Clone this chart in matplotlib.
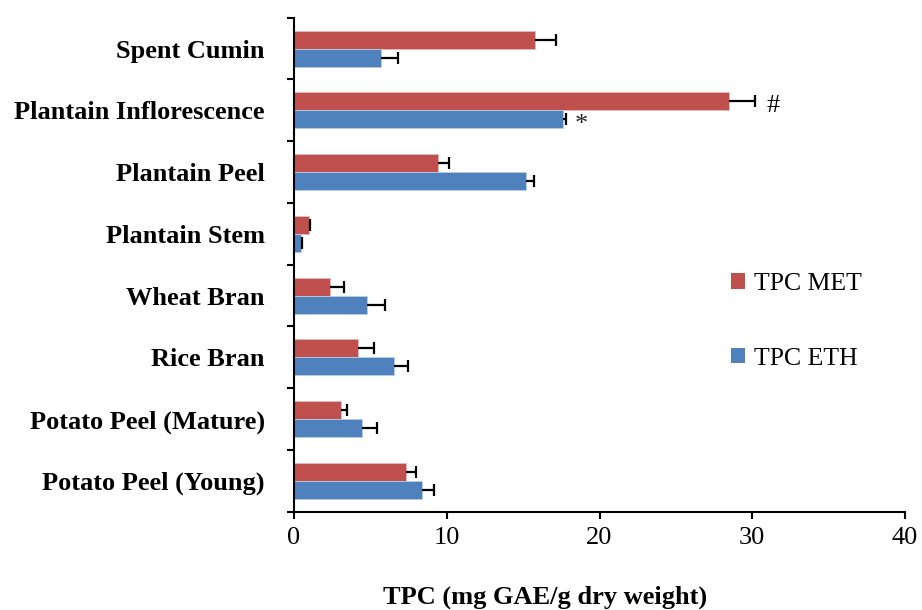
import matplotlib
matplotlib.use("Agg")
import matplotlib.pyplot as plt
from matplotlib.patches import Patch
import numpy as np

plt.rcParams['font.family'] = ['Liberation Serif', 'DejaVu Serif']

categories = ["Potato Peel (Young)", "Potato Peel (Mature)", "Rice Bran", "Wheat Bran",
              "Plantain Stem", "Plantain Peel", "Plantain Inflorescence", "Spent Cumin"]
tpc_met = [7.35, 3.1, 4.17, 2.36, 0.98, 9.4, 28.5, 15.8]
tpc_met_err = [0.64, 0.35, 1.09, 0.91, 0.07, 0.75, 1.7, 1.35]
tpc_eth = [8.36, 4.45, 6.52, 4.76, 0.44, 15.2, 17.6, 5.7]
tpc_eth_err = [0.79, 0.96, 0.92, 1.22, 0.08, 0.5, 0.2, 1.1]
series_labels = ["TPC MET", "TPC ETH"]
x_ticks = [0, 10, 20, 30, 40]

MET_COLOR = "#C0504D"
ETH_COLOR = "#4F81BD"
FS = 19

fig = plt.figure(figsize=(9.22, 6.1), dpi=100)
ax = fig.add_axes([0.3189, 0.1611, 0.6627, 0.8098])

y = np.arange(len(categories))
h = 0.29
off = h / 2


def plus_error(xs, ys, errs):
    """One-sided (positive) error bars with an end cap."""
    xs = np.asarray(xs)
    errs = np.asarray(errs)
    ax.hlines(ys, xs, xs + errs, color="black", lw=1.6, zorder=3)
    ax.plot(xs + errs, ys, ls="none", marker="|", ms=8.5, mew=1.6, color="black", zorder=3)


ax.barh(y + off, tpc_met, height=h, color=MET_COLOR, edgecolor="#E6B9B8", linewidth=0.6, zorder=2)
ax.barh(y - off, tpc_eth, height=h, color=ETH_COLOR, edgecolor="#B9CDE5", linewidth=0.6, zorder=2)
plus_error(tpc_met, y + off, tpc_met_err)
plus_error(tpc_eth, y - off, tpc_eth_err)

# significance markers beside the Plantain Inflorescence bars
i = categories.index("Plantain Inflorescence")
ax.annotate("#", xy=(tpc_met[i] + tpc_met_err[i], y[i] + off), xytext=(13, -3),
            textcoords="offset points", ha="center", va="center", fontsize=FS)
ax.annotate("*", xy=(tpc_eth[i] + tpc_eth_err[i], y[i] - off), xytext=(11, -4),
            textcoords="offset points", ha="center", va="center", fontsize=FS, color="#222222")

ax.set_xlim(0, 40)
ax.set_ylim(-0.5, len(categories) - 0.5)
ax.set_xticks(x_ticks)
ax.set_xticklabels([str(t) for t in x_ticks], fontsize=FS)

# boundary ticks between categories, labels at the category centres
ax.set_yticks(np.arange(len(categories) + 1) - 0.5)
ax.set_yticklabels([])
ax.set_yticks(y, minor=True)
ax.set_yticklabels(categories, minor=True, fontsize=FS, fontweight="bold")
ax.tick_params(axis="y", which="major", length=5, width=1.5, direction="out")
ax.tick_params(axis="y", which="minor", length=0, pad=21)
ax.tick_params(axis="x", which="major", length=5, width=1.5, direction="out", pad=6)

for s in ["top", "right"]:
    ax.spines[s].set_visible(False)
for s in ["left", "bottom"]:
    ax.spines[s].set_linewidth(1.5)

fig.text(545 / 922, 1 - 597 / 610, "TPC (mg GAE/g dry weight)", ha="center", va="center",
         fontsize=FS, fontweight="bold")

handles = [Patch(facecolor=MET_COLOR, label=series_labels[0]),
           Patch(facecolor=ETH_COLOR, label=series_labels[1])]
ax.legend(handles=handles, loc="upper left", bbox_to_anchor=(731 / 922, 1 - 273 / 610),
          bbox_transform=fig.transFigure, frameon=False, fontsize=18.5,
          handlelength=0.55, handleheight=0.55, handletextpad=0.35, labelspacing=2.05,
          borderaxespad=0, borderpad=0)

fig.savefig("out.png", dpi=100)
